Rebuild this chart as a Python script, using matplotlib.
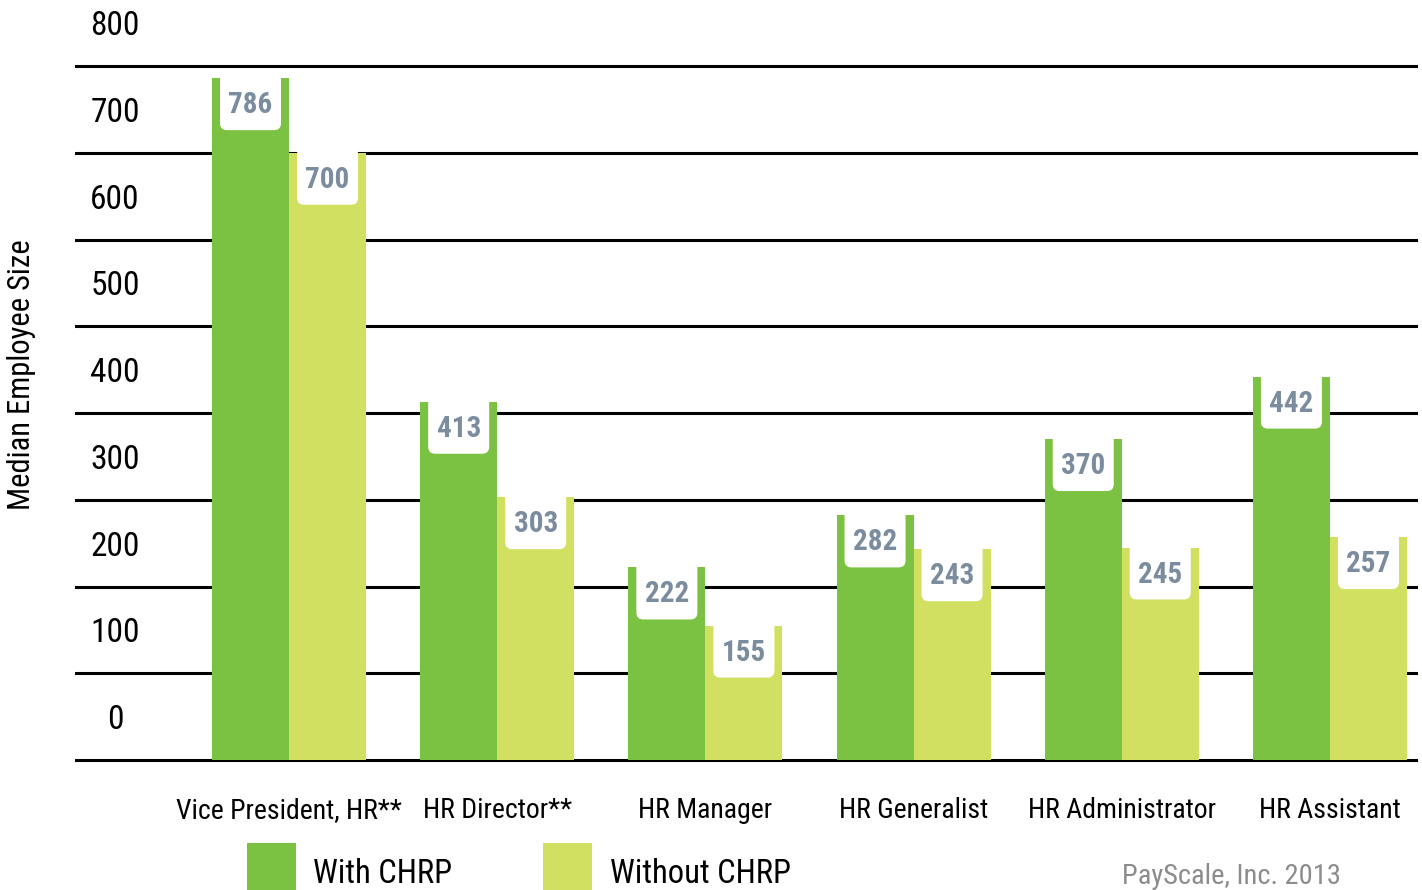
import matplotlib
matplotlib.use("Agg")
import matplotlib.pyplot as plt
from matplotlib import font_manager
from matplotlib.patches import FancyBboxPatch, Rectangle
from matplotlib.transforms import ScaledTranslation

categories = ["Vice President, HR**", "HR Director**", "HR Manager",
              "HR Generalist", "HR Administrator", "HR Assistant"]
with_chrp = [786, 413, 222, 282, 370, 442]
without_chrp = [700, 303, 155, 243, 245, 257]
series_names = ["With CHRP", "Without CHRP"]
y_ticks = [0, 100, 200, 300, 400, 500, 600, 700, 800]
source = "PayScale, Inc. 2013"
y_title = "Median Employee Size"

GREEN = "#7cc242"
LIGHT = "#d2e062"
LABEL_COL = "#7a8c9e"

available = {f.name for f in font_manager.fontManager.ttflist}
FONT = "DejaVu Sans"
for cand in ["Liberation Sans Narrow", "Roboto Condensed", "Open Sans Condensed", "Liberation Sans"]:
    if cand in available:
        FONT = cand
        break
plt.rcParams["font.family"] = [FONT, "DejaVu Sans"]

fig = plt.figure(figsize=(14.22, 8.9), dpi=100)
ax = fig.add_axes([75 / 1422, 0.1421, 1343 / 1422, 0.7896])

n = len(categories)
x = list(range(n))
w = 0.37
bars1 = ax.bar([i - w / 2 for i in x], with_chrp, width=w, color=GREEN, zorder=3, linewidth=0)
bars2 = ax.bar([i + w / 2 for i in x], without_chrp, width=w, color=LIGHT, zorder=3, linewidth=0)

ax.set_xlim(-1.028, 5.423)
ax.set_ylim(-4, 806)
ax.set_yticks(y_ticks)
ax.set_yticklabels([])
ax.tick_params(axis="y", length=0)
ax.grid(axis="y", color="black", linewidth=2.2, zorder=0)
ax.set_axisbelow(True)
for s in ax.spines.values():
    s.set_visible(False)

ax.set_xticks(x)
ax.set_xticklabels(categories, fontsize=20)
ax.tick_params(axis="x", length=0, pad=24)

# y tick labels sit above their gridlines
ytrans = ax.get_yaxis_transform()
for v in y_ticks:
    ax.annotate(str(v), xy=(0.0298, v), xycoords=ytrans, xytext=(0, 40),
                textcoords="offset pixels", ha="center", va="center",
                fontsize=24, color="black", annotation_clip=False)

# value labels in white tabs at top of bars
for bars, vals in ((bars1, with_chrp), (bars2, without_chrp)):
    for b, v in zip(bars, vals):
        xc = b.get_x() + b.get_width() / 2
        trans = fig.dpi_scale_trans + ScaledTranslation(xc, v, ax.transData)
        patch = FancyBboxPatch((-0.305, -0.52), 0.61, 0.58,
                               boxstyle="round,pad=0,rounding_size=0.07",
                               transform=trans, facecolor="white",
                               edgecolor="none", zorder=4)
        ax.add_patch(patch)
        ax.annotate(str(v), xy=(xc, v), xytext=(0, -27), textcoords="offset pixels",
                    ha="center", va="center", fontsize=21, fontweight="bold",
                    color=LABEL_COL, zorder=5)

# y-axis title
fig.text(22 / 1422, 1 - 375 / 890, y_title, rotation=90, ha="center", va="center",
         fontsize=22, color="black")

# legend
for (x0, tx, col, name) in ((247, 313, GREEN, series_names[0]),
                            (543, 610, LIGHT, series_names[1])):
    fig.patches.append(Rectangle((x0 / 1422, 0), 49 / 1422, 47 / 890,
                                 transform=fig.transFigure, facecolor=col,
                                 edgecolor="none"))
    fig.text(tx / 1422, 1 - 874 / 890, name, ha="left", va="center",
             fontsize=23.5, color="black")

fig.text(1232 / 1422, 1 - 876 / 890, source, ha="center", va="center",
         fontsize=20.5, color="#8c8c8c")

fig.savefig("out.png", dpi=100)
